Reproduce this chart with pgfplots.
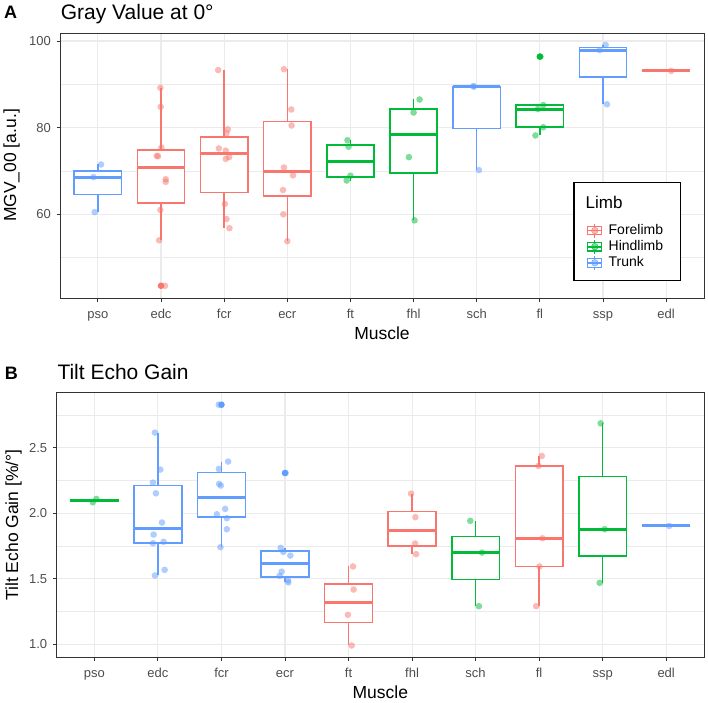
\documentclass[border=0pt]{standalone}
\usepackage{fontspec}
\setmainfont{Liberation Sans}
\usepackage{pgfplots}
\pgfplotsset{compat=1.18}
\usepgfplotslibrary{statistics}
\definecolor{fore}{HTML}{F8766D}
\definecolor{hind}{HTML}{00BA38}
\definecolor{trunk}{HTML}{619CFF}
\definecolor{gridc}{HTML}{EBEBEB}
\definecolor{bord}{HTML}{333333}
\definecolor{tickc}{HTML}{4D4D4D}
\pgfplotsset{
  base/.style={scale only axis, xmin=0.4, xmax=10.6,
    xtick={1,2,3,4,5,6,7,8,9,10},
    xticklabels={pso,edc,fcr,ecr,ft,fhl,sch,fl,ssp,edl},
    tick pos=left, tick align=outside, major tick length=3.5bp, minor tick length=0pt,
    axis line style={bord, line width=0.9bp},
    every tick/.style={bord, line width=0.9bp},
    xmajorgrids, ymajorgrids, yminorgrids,
    major grid style={gridc, line width=1.1bp},
    minor grid style={gridc, line width=0.55bp},
    /pgf/number format/assume math mode=true,
    tick label style={font=\fontsize{13bp}{15bp}\selectfont, text=tickc, inner sep=0pt},
    xticklabel style={anchor=base, yshift=-16.7bp},
    yticklabel style={anchor=east, xshift=-5.5bp},
    every axis x label/.style={anchor=center, font=\fontsize{17.5bp}{20bp}\selectfont, text=black},
    every axis y label/.style={rotate=90, anchor=center, font=\fontsize{17.5bp}{20bp}\selectfont, text=black},
  },
  bx/.style n args={7}{boxplot prepared={draw direction=y, draw position=#2, lower whisker=#3,
      lower quartile=#4, median=#5, upper quartile=#6, upper whisker=#7,
      box extend=0.75, whisker extend=0,
      every box/.style={line width=1.5bp},
      every whisker/.style={line width=1.5bp},
      every median/.style={line width=3bp}},
    draw=#1, fill=white, line width=1.5bp, solid, mark=none},
  pts/.style={only marks, mark=*, mark size=3.3bp,
    mark options={draw opacity=0, fill=#1, fill opacity=0.5}},
  outl/.style={only marks, mark=*, mark size=3.3bp,
    mark options={draw opacity=0, fill=#1}},
  glyph/.style={legend image code/.code={
      \draw[#1, line width=1.1bp] (7bp,-7bp)--(7bp,7bp);
      \draw[#1, line width=1.1bp, fill=white] (0bp,-4.3bp) rectangle (14bp,4.3bp);
      \draw[#1, line width=1.8bp] (0bp,0bp)--(14bp,0bp);
      \fill[#1, fill opacity=0.5] (7bp,0bp) circle (3.3bp);
  }},
}
\begin{document}
\begin{tikzpicture}
\useasboundingbox (0bp,0bp) rectangle (708bp,-703bp);
% titles
\node[anchor=base west, inner sep=0pt, font=\fontsize{18bp}{20bp}\selectfont\bfseries] at (4bp,-18.7bp) {A};
\node[anchor=base west, inner sep=0pt, font=\fontsize{21bp}{24bp}\selectfont] at (60.7bp,-19bp) {Gray Value at 0°};
\node[anchor=base west, inner sep=0pt, font=\fontsize{18bp}{20bp}\selectfont\bfseries] at (4.7bp,-379bp) {B};
\node[anchor=base west, inner sep=0pt, font=\fontsize{21bp}{24bp}\selectfont] at (57.3bp,-379bp) {Tilt Echo Gain};

% ---------------- Panel A ----------------
\begin{axis}[base, at={(60bp,-298bp)}, anchor=south west,
  width=644bp, height=265bp, ymin=40.68, ymax=101.85,
  ytick={60,80,100}, minor ytick={50,70,90},
  xlabel={Muscle}, ylabel={MGV\_00 [a.u.]},
  xlabel style={at={(axis description cs:0.5,-0.1336)}},
  ylabel style={at={(axis description cs:-0.075,0.5)}},
  legend style={at={(rel axis cs:0.8178,0.1936)}, anchor=west, draw=none, fill=none,
    font=\fontsize{14bp}{16bp}\selectfont, inner sep=0pt, row sep=1bp,
    nodes={inner sep=0pt, text height=10.5bp, text depth=3bp}},
  legend cell align=left,
]
\addlegendimage{glyph=fore}\addlegendentry{\hspace{6bp}Forelimb}
\addlegendimage{glyph=hind}\addlegendentry{\hspace{6bp}Hindlimb}
\addlegendimage{glyph=trunk}\addlegendentry{\hspace{6bp}Trunk}
% boxes
\addplot[bx={{trunk}{1}{60.5}{64.55}{68.6}{70.05}{71.5}}] coordinates {};
\addplot[bx={{fore}{2}{54.0}{62.6}{70.75}{74.9}{89.2}}] coordinates {};
\addplot[bx={{fore}{3}{56.8}{65.0}{73.95}{77.8}{93.3}}] coordinates {};
\addplot[bx={{fore}{4}{53.8}{64.2}{69.9}{81.4}{93.5}}] coordinates {};
\addplot[bx={{hind}{5}{67.8}{68.6}{72.25}{75.98}{77.1}}] coordinates {};
\addplot[bx={{hind}{6}{58.6}{69.55}{78.35}{84.25}{86.5}}] coordinates {};
\addplot[bx={{trunk}{7}{70.2}{79.85}{89.5}{89.55}{89.6}}] coordinates {};
\addplot[bx={{hind}{8}{78.2}{80.1}{84.3}{85.2}{85.2}}] coordinates {};
\addplot[bx={{trunk}{9}{85.4}{91.65}{97.9}{98.5}{99.1}}] coordinates {};
\addplot[bx={{fore}{10}{93.1}{93.1}{93.1}{93.1}{93.1}}] coordinates {};
% outliers
\addplot[outl=fore] coordinates {(2,43.5)};
\addplot[outl=hind] coordinates {(8,96.4)};
% jittered points
\addplot[pts=trunk] coordinates {
 (1.05,71.5) (0.93,68.6) (0.95,60.5)
 (6.948,89.6) (7.036,70.2) (6.955,89.45)
 (9.042,99.1) (8.948,97.9) (9.063,85.4)};
\addplot[pts=fore] coordinates {
 (1.99,89.2) (1.995,84.8) (2.005,75.4) (1.932,73.5) (1.953,73.4)
 (2.074,68.1) (2.074,67.5) (1.99,61.0) (1.97,54.0) (2.063,43.5)
 (2.905,93.3) (3.058,79.6) (3.037,78.7) (2.916,75.2) (3.026,74.7)
 (3.079,73.2) (3.026,72.8) (3.01,62.4) (3.037,58.9) (3.084,56.8)
 (3.947,93.5) (4.063,84.2) (4.068,80.5) (3.947,70.8) (4.09,69.0)
 (3.932,65.6) (3.937,60.0) (4.0,53.8)
 (10.08,93.1)};
\addplot[pts=hind] coordinates {
 (4.953,77.1) (4.97,75.6) (5.0,68.9) (4.94,67.8)
 (6.095,86.5) (6.0,83.5) (5.926,73.2) (6.016,58.6)
 (8.054,85.2) (7.97,84.3) (8.054,80.1) (7.93,78.2) (8.01,96.4)};
% legend frame and title
\draw[black, line width=1.3bp, fill=white] (rel axis cs:0.798,0.065) rectangle (rel axis cs:0.964,0.435);
\node[anchor=base west, inner sep=0pt, font=\fontsize{17bp}{20bp}\selectfont] at (rel axis cs:0.816,0.3396) {Limb};
\end{axis}

% ---------------- Panel B ----------------
\begin{axis}[base, at={(56.3bp,-657.3bp)}, anchor=south west,
  width=648bp, height=264.6bp, ymin=0.9008, ymax=2.9196,
  ytick={1.0,1.5,2.0,2.5}, yticklabels={1.0,1.5,2.0,2.5},
  minor ytick={1.25,1.75,2.25,2.75},
  xlabel={Muscle}, ylabel={Tilt Echo Gain [\%/°]},
  xlabel style={at={(axis description cs:0.5,-0.1338)}},
  ylabel style={at={(axis description cs:-0.0657,0.5)}},
]
\addplot[bx={{hind}{1}{2.085}{2.091}{2.0975}{2.104}{2.11}}] coordinates {};
\addplot[bx={{trunk}{2}{1.525}{1.774}{1.883}{2.2135}{2.615}}] coordinates {};
\addplot[bx={{trunk}{3}{1.741}{1.970}{2.122}{2.3095}{2.394}}] coordinates {};
\addplot[bx={{trunk}{4}{1.472}{1.513}{1.616}{1.713}{1.736}}] coordinates {};
\addplot[bx={{fore}{5}{0.991}{1.1665}{1.3215}{1.462}{1.594}}] coordinates {};
\addplot[bx={{fore}{6}{1.688}{1.749}{1.8695}{2.015}{2.150}}] coordinates {};
\addplot[bx={{hind}{7}{1.291}{1.4955}{1.700}{1.821}{1.942}}] coordinates {};
\addplot[bx={{fore}{8}{1.291}{1.594}{1.809}{2.361}{2.437}}] coordinates {};
\addplot[bx={{hind}{9}{1.469}{1.6735}{1.878}{2.282}{2.686}}] coordinates {};
\addplot[bx={{trunk}{10}{1.903}{1.903}{1.903}{1.903}{1.903}}] coordinates {};
% outliers
\addplot[outl=trunk] coordinates {(3,2.828) (4,2.307)};
% jittered points
\addplot[pts=hind] coordinates {
 (0.974,2.084) (1.031,2.109)
 (6.916,1.942) (7.1,1.700) (7.052,1.291)
 (8.969,2.686) (9.031,1.878) (8.953,1.469)};
\addplot[pts=trunk] coordinates {
 (1.953,2.615) (2.037,2.333) (1.921,2.234) (1.968,2.152) (2.063,1.929)
 (1.932,1.837) (1.921,1.771) (2.089,1.782) (2.105,1.568) (1.953,1.525)
 (2.958,2.828) (3.105,2.394) (2.958,2.338) (2.963,2.224) (2.99,2.211)
 (3.058,2.033) (2.927,1.992) (3.084,1.962) (3.084,1.878) (2.984,1.741)
 (4.01,2.307) (3.932,1.736) (3.974,1.705) (4.084,1.677) (3.948,1.555)
 (3.916,1.522) (4.047,1.487) (4.052,1.472)
 (10.047,1.903)};
\addplot[pts=fore] coordinates {
 (5.07,1.594) (5.08,1.418) (4.99,1.225) (5.05,0.991)
 (5.984,2.150) (6.052,1.970) (6.047,1.769) (6.063,1.688)
 (8.042,2.437) (7.99,2.361) (8.052,1.809) (8.005,1.594) (7.953,1.291)};
\end{axis}
\end{tikzpicture}
\end{document}
